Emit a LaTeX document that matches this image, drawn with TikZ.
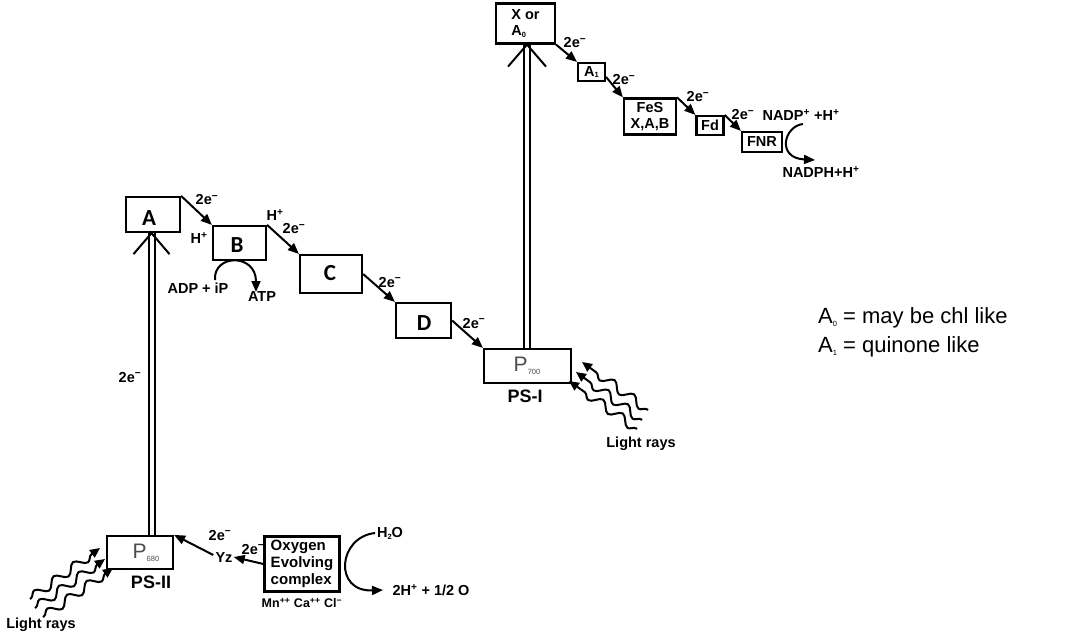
\documentclass[tikz,border=0pt]{standalone}
\usepackage{fontspec}
\setmainfont{Liberation Sans}
\newfontfamily\calfont{Carlito}
\usetikzlibrary{arrows.meta,decorations.pathmorphing,calc}
\newcommand\su[1]{\textsuperscript{#1}}
\newcommand\sbx[1]{\raisebox{-0.25ex}{\fontsize{7.5}{7.5}\selectfont #1}}
\tikzset{
  x=1pt, y=-1pt,
  box/.style={draw, line width=2.2pt, inner sep=0pt},
  big/.style={font=\calfont\bfseries\fontsize{23}{23}\selectfont},
  lbl/.style={font=\bfseries\fontsize{14.5}{16}\selectfont, inner sep=1pt},
  small/.style={font=\bfseries\fontsize{12.5}{14}\selectfont, inner sep=1pt},
  pnode/.style={font=\fontsize{21}{21}\selectfont, text=black!70},
  ps/.style={font=\bfseries\fontsize{18}{18}\selectfont, inner sep=1pt},
  arr/.style={line width=2pt, -{Triangle[length=11pt,width=9pt]}},
  dbl/.style={line width=2pt, double distance=4pt},
  vee/.style={line width=2pt},
  ray/.style={line width=2pt, decorate,
    decoration={snake, segment length=24pt, amplitude=4.5pt, post length=9pt, pre length=1pt},
    -{Triangle[length=10pt,width=9pt]}},
  legend/.style={font=\fontsize{22}{24}\selectfont, anchor=west, inner sep=0pt}
}
\begin{document}
\begin{tikzpicture}
\useasboundingbox (0,0) rectangle (1067,638);

% ---- PS-II side boxes
\node[box, minimum width=54pt, minimum height=35pt] (A) at (153,214.5) {};
\node[big] at (149,218) {A};
\node[box, minimum width=53pt, minimum height=34pt] (B) at (239.5,243) {};
\node[big] at (237,245) {B};
\node[box, minimum width=62pt, minimum height=38pt] (C) at (331,274) {};
\node[big] at (330,273) {C};
\node[box, minimum width=55pt, minimum height=35pt] (D) at (423.5,320.5) {};
\node[big] at (424,323) {D};
\node[box, minimum width=87pt, minimum height=34pt] (P700) at (527.5,366) {};
\node[pnode] at (527,366) {P\sbx{700}};
\node[ps] (PSI) at (525,396) {PS-I};

\node[box, minimum width=66pt, minimum height=33pt] (P680) at (140,552.5) {};
\node[pnode] at (146,553) {P\sbx{680}};
\node[ps] (PSII) at (151,582) {PS-II};

% ---- PS-I chain
\node[box, minimum width=59pt, minimum height=40pt, lbl, align=left] (X) at (525.5,23.5) {X or\\A\sbx{0}};
\node[box, minimum width=27pt, minimum height=18pt, lbl] (A1) at (591.5,72) {A\sbx{1}};
\node[box, minimum width=52pt, minimum height=36pt, lbl, align=center] (FeS) at (650,116.5) {FeS\\X,A,B};
\node[box, minimum width=27pt, minimum height=19pt, lbl] (Fd) at (710,125.5) {Fd};
\node[box, minimum width=40pt, minimum height=20pt, lbl] (FNR) at (762,142) {FNR};

% ---- oxygen evolving
\node[box, minimum width=75pt, minimum height=55pt, lbl, align=left, font=\bfseries\fontsize{15}{17}\selectfont] (OEC) at (302,564) {Oxygen\\Evolving\\complex};
\node[small] (Mn) at (302,603) {Mn\su{++} Ca\su{++} Cl\su{−}};
\node[lbl] (Yz) at (224,557) {Yz};
\node[lbl] (H2O) at (390,533) {H\sbx{2}O};
\node[lbl] (Hout) at (431,590) {2H\su{+} + 1/2 O};

% ---- labels
\node[lbl] at (207,200) {2e\su{−}};
\node[lbl] at (199,238) {H\su{+}};
\node[lbl] at (275,215) {H\su{+}};
\node[lbl] at (294,229) {2e\su{−}};
\node[lbl] (ADP) at (198,288) {ADP + iP};
\node[lbl] (ATP) at (262,297) {ATP};
\node[lbl] at (390,282) {2e\su{−}};
\node[lbl] at (474,323) {2e\su{−}};
\node[lbl] at (130,377) {2e\su{−}};
\node[lbl] at (575,43) {2e\su{−}};
\node[lbl] at (624,80) {2e\su{−}};
\node[lbl] at (698,97) {2e\su{−}};
\node[lbl] at (743,115) {2e\su{−}};
\node[lbl] (NADP) at (801,115) {NADP\su{+} +H\su{+}};
\node[lbl] (NADPH) at (821,172) {NADPH+H\su{+}};
\node[lbl] at (220,535) {2e\su{−}};
\node[lbl] at (253,549) {2e\su{−}};
\node[lbl] (LR1) at (41,625) {Light rays};
\node[lbl] (LR2) at (641,444) {Light rays};

% ---- legend
\node[legend] (L0) at (818,318) {A\sbx{0} = may be chl like};
\node[legend] (L1) at (818,347) {A\sbx{1} = quinone like};

% ---- electron transport arrows
\draw[arr] (A.north east) -- (B.north west);
\draw[arr] (B.north east) -- (C.north west);
\draw[arr] (C.east) -- (D.north west);
\draw[arr] (D.east) -- (P700.north west);
\draw[arr] (X.south east) -- (A1.north west);
\draw[arr] (A1.east) ++(0,5) -- (FeS.north west);
\draw[arr] (FeS.north east) -- (Fd.north west);
\draw[arr] (Fd.north east) -- (FNR.north west);
\draw[arr] (Yz.west) ++(-1,-2) -- (P680.north east);
\draw[arr] (OEC.west) -- (Yz.east);

% ---- excitation double arrows
\coordinate (v1) at (151.5,0);
\draw[dbl] (P680.north -| v1) -- (A.south -| v1);
\draw[vee] (A.south -| v1) -- ++(-18,21);
\draw[vee] (A.south -| v1) -- ++(18,21);
\coordinate (v2) at (527,0);
\draw[dbl] (P700.north -| v2) -- (X.south -| v2);
\draw[vee] (X.south -| v2) -- ++(-19,22);
\draw[vee] (X.south -| v2) -- ++(19,22);

% ---- curved arrows
\coordinate (atp1) at (215,280);
\coordinate (atp2) at (256,292);
\draw[arr] (atp1) .. controls (213,254) and (256,253) .. (atp2);
\coordinate (n1) at (803,124);
\coordinate (n2) at (815,160);
\draw[arr] (n1) .. controls (784,126) and (776,158) .. (n2);
\coordinate (h1) at (375,533);
\coordinate (h2) at (383,590);
\draw[arr] (h1) .. controls (338,537) and (333,592) .. (h2);

% ---- light rays
\coordinate (a1) at (30,599); \coordinate (b1) at (100,548);
\coordinate (a2) at (35,608); \coordinate (b2) at (105,559);
\coordinate (a3) at (43,617); \coordinate (b3) at (113,568);
\draw[ray] (a1) -- (b1);
\draw[ray] (a2) -- (b2);
\draw[ray] (a3) -- (b3);
\coordinate (c1) at (648,410); \coordinate (d1) at (582,362);
\coordinate (c2) at (642,420); \coordinate (d2) at (576,372);
\coordinate (c3) at (637,429); \coordinate (d3) at (569,381);
\draw[ray] (c1) -- (d1);
\draw[ray] (c2) -- (d2);
\draw[ray] (c3) -- (d3);
\end{tikzpicture}
\end{document}
